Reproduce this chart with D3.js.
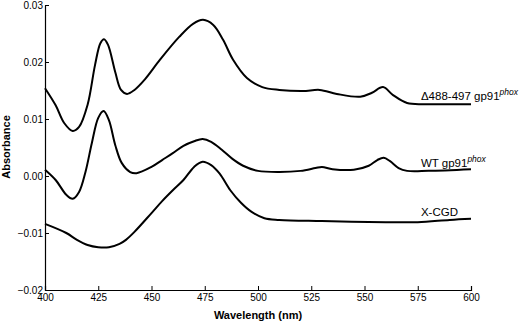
<!DOCTYPE html>
<html>
<head>
<meta charset="utf-8">
<script src="https://cdn.jsdelivr.net/npm/d3@7"></script>
<style>
  body { margin: 0; background: #fff; }
  svg text { font-family: Arial, "Liberation Sans", sans-serif; fill: #000; }
</style>
</head>
<body>
<div id="chart"></div>
<script>
// spectra (wavelength nm, absorbance)
const deltaWl = [400, 405, 409, 413, 416, 420, 423.5, 426, 427.7, 429.6, 433, 435.7, 438.5, 442, 447, 454, 463, 469.5, 474.2, 479, 483.6, 488.3, 494.8, 502, 510, 521, 529, 537, 548, 553.5, 558.7, 563.4, 570, 579, 600];
const deltaAbs = [0.0154, 0.0124, 0.0093, 0.0079, 0.0086, 0.0125, 0.0195, 0.0233, 0.0240, 0.0230, 0.0182, 0.0151, 0.0144, 0.0151, 0.0170, 0.0204, 0.0244, 0.0267, 0.0274, 0.0265, 0.0239, 0.0204, 0.0172, 0.0156, 0.0151, 0.0149, 0.0151, 0.0144, 0.0139, 0.0146, 0.0156, 0.0142, 0.0128, 0.0126, 0.0126];

const wtWl = [400, 405, 410, 413, 416, 419, 422, 425, 427.5, 430, 433, 436, 440, 443, 450, 455, 460, 465, 470, 474, 478, 483, 488, 493, 500, 510, 520, 527, 530, 535, 545, 552, 556, 559, 562, 566, 570, 580, 600];
const wtAbs = [0.0011, -0.0007, -0.0033, -0.0040, -0.0028, 0.0007, 0.0058, 0.0102, 0.0114, 0.0098, 0.0054, 0.0023, 0.0007, 0.0005, 0.0016, 0.0028, 0.0040, 0.0053, 0.0061, 0.0065, 0.0060, 0.0046, 0.0030, 0.0018, 0.0009, 0.0007, 0.0009, 0.0014, 0.0016, 0.0012, 0.0011, 0.0018, 0.0028, 0.0032, 0.0026, 0.0014, 0.0009, 0.0009, 0.0012];

const xcgdWl = [400, 410, 415, 420, 425, 430, 435, 438, 442, 450, 455, 460, 465, 470, 474, 478, 482, 487, 492, 497, 503, 510, 530, 560, 575, 590, 600];
const xcgdAbs = [-0.0084, -0.0100, -0.0112, -0.0121, -0.0125, -0.0125, -0.0119, -0.0112, -0.0098, -0.0065, -0.0044, -0.0025, -0.0007, 0.0016, 0.0025, 0.0019, 0.0004, -0.0025, -0.0047, -0.0063, -0.0074, -0.0077, -0.0079, -0.0081, -0.0081, -0.0077, -0.0075];

const xTicks = [400, 425, 450, 475, 500, 525, 550, 575, 600];
const yTicks = [-0.02, -0.01, 0.00, 0.01, 0.02, 0.03];

const margin = { top: 5, right: 49, bottom: 31, left: 45 },
      width = 520 - margin.left - margin.right,
      height = 321 - margin.top - margin.bottom;

const svg = d3.select("#chart").append("svg")
    .attr("width", 520)
    .attr("height", 321)
  .append("g")
    .attr("transform", "translate(" + margin.left + "," + margin.top + ")");

const x = d3.scaleLinear().domain([400, 600]).range([0, width]);
const y = d3.scaleLinear().domain([-0.02, 0.03]).range([height, 0]);

const xAxis = svg.append("g")
    .attr("transform", "translate(0," + height + ")")
    .call(d3.axisBottom(x).tickValues(xTicks).tickSize(-4).tickPadding(4).tickFormat(d3.format("d")));

const yAxis = svg.append("g")
    .call(d3.axisLeft(y).tickValues(yTicks).tickSizeInner(-4).tickSizeOuter(0).tickPadding(2).tickFormat(d3.format(".2f")));

[xAxis, yAxis].forEach(a => {
  a.select(".domain").attr("stroke", "#000").attr("stroke-width", 1.2);
  a.selectAll(".tick line").attr("stroke", "#000").attr("stroke-width", 1);
  a.selectAll(".tick text").style("font-size", "10px").style("font-family", "Arial, 'Liberation Sans', sans-serif");
});

const line = d3.line()
    .x(d => x(d[0]))
    .y(d => y(d[1]))
    .curve(d3.curveCatmullRom.alpha(0.5));

const series = [
  { wl: deltaWl, abs: deltaAbs },
  { wl: wtWl, abs: wtAbs },
  { wl: xcgdWl, abs: xcgdAbs }
];

series.forEach(s => {
  svg.append("path")
    .datum(d3.zip(s.wl, s.abs))
    .attr("fill", "none")
    .attr("stroke", "#000")
    .attr("stroke-width", 2)
    .attr("d", line);
});

// curve labels, left edge at about 576.5 nm
function label(txt, sup, xv, yv) {
  const t = svg.append("text")
      .attr("x", x(xv))
      .attr("y", yv)
      .style("font-size", "11.5px");
  t.append("tspan").text(txt);
  if (sup) {
    t.append("tspan")
      .attr("dy", -5)
      .style("font-size", "8.5px")
      .style("font-style", "italic")
      .text(sup);
  }
}
label("\u0394488-497 gp91", "phox", 576.5, 95);
label("WT gp91", "phox", 576.5, 162);
label("X-CGD", null, 576.5, 211);

// axis titles
svg.append("text")
    .attr("x", width / 2)
    .attr("y", height + 29)
    .attr("text-anchor", "middle")
    .style("font-size", "11px")
    .style("font-weight", "bold")
    .text("Wavelength (nm)");

svg.append("text")
    .attr("transform", "rotate(-90)")
    .attr("x", -142)
    .attr("y", -35.5)
    .attr("text-anchor", "middle")
    .style("font-size", "11px")
    .style("font-weight", "bold")
    .text("Absorbance");
</script>
</body>
</html>
